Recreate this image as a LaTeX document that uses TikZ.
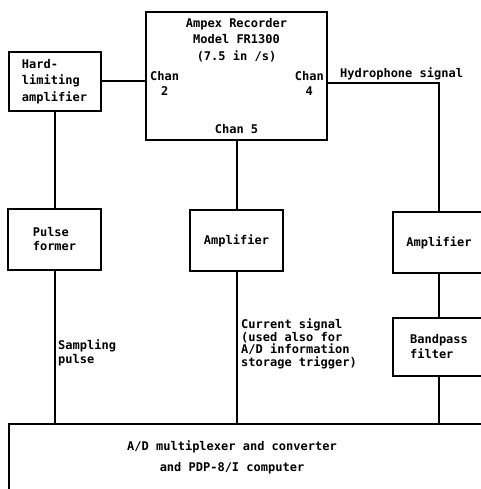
\documentclass[tikz,border=0pt]{standalone}
\usepackage{fontspec}
\setmonofont{DejaVu Sans Mono}
\usetikzlibrary{positioning}
\tikzset{
  blk/.style={draw, line width=2pt, align=left, inner sep=0pt},
  lbl/.style={inner sep=0pt, align=left},
  wire/.style={line width=2pt},
}
\begin{document}
\begin{tikzpicture}[x=1pt,y=-1pt,font=\ttfamily\bfseries\fontsize{12}{16.5}\selectfont]
      \useasboundingbox (0,0) rectangle (480,489);
        \node[blk, minimum width=181pt, minimum height=128pt] (rec) at (236.5,76) {};
        \node[lbl, align=center, below=7pt of rec.north] (rectitle) {Ampex Recorder\\Model FR1300\\(7.5 in /s)};
        \node[lbl, align=center, anchor=west] (ch2) at ([xshift=5pt,yshift=-7.5pt]rec.west) {Chan\\[-1.5pt]2};
        \node[lbl, align=center, anchor=east] (ch4lbl) at ([xshift=-4pt,yshift=-7.5pt]rec.east) {Chan\\[-1.5pt]4};
        \node[lbl, above=7pt of rec.south] (ch5) {Chan 5};
        \node[blk, minimum width=92pt, minimum height=59pt] (hla) at (54.5,81.5) {Hard-\\limiting\\amplifier};
        \node[blk, minimum width=93pt, minimum height=61pt] (pf) at (54.5,239.5) {Pulse\\[-2.5pt]former};
        \node[blk, minimum width=93pt, minimum height=61pt] (amp1) at (236.5,240.5) {Amplifier};
        \node[blk, minimum width=92pt, minimum height=61pt] (amp2) at (439,242.5) {Amplifier};
        \node[blk, minimum width=92pt, minimum height=58pt] (bpf) at (439,347) {Bandpass\\[-1.5pt]filter};
        \node[blk, anchor=north west, minimum width=490pt, minimum height=90pt] (adc) at (8,423) {};
        \node[lbl, align=center] (adtxt) at (232,457.5) {A/D multiplexer and converter\\[4.5pt]and PDP-8/I computer};
        \coordinate (ch4) at ([yshift=-7pt]rec.east);
        \draw[wire] (hla.east) -- (hla.east -| rec.west);
        \draw[wire] (hla) -- (pf);
        \draw[wire] (pf.south) -- (pf.south |- adc.north);
        \draw[wire] (rec.south) -- (amp1.north);
        \draw[wire] (amp1.south) -- (amp1.south |- adc.north);
        \draw[wire] (ch4) -| (amp2.north);
        \draw[wire] (amp2) -- (bpf);
        \draw[wire] (bpf.south) -- (bpf.south |- adc.north);
        \node[lbl, anchor=base west] (hyd) at ([xshift=12pt,yshift=5pt]ch4) {Hydrophone signal};
        \node[lbl, anchor=west] (samp) at (58,353) {Sampling\\[-2pt]pulse};
        \node[lbl, anchor=west] (cur) at (241,344) {Current signal\\[-4pt](used also for\\[-4pt]A/D information\\[-4pt]storage trigger)};
\end{tikzpicture}
\end{document}
